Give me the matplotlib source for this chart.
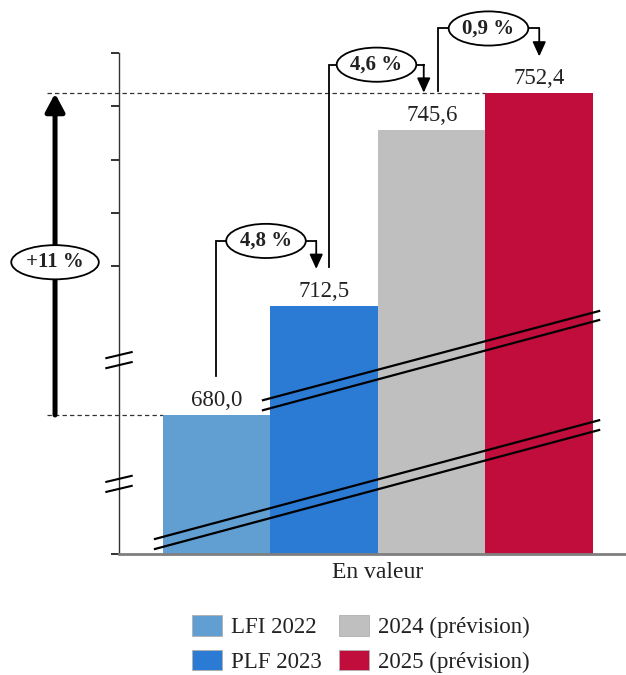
import numpy as np
import matplotlib
matplotlib.use("Agg")
import matplotlib.pyplot as plt
from matplotlib.patches import Patch

plt.rcParams["font.family"] = ["Liberation Serif", "DejaVu Serif"]

# --- data -------------------------------------------------------------
categories = ["LFI 2022", "PLF 2023", "2024 (prévision)", "2025 (prévision)"]
values = [680.0, 712.5, 745.6, 752.4]
value_labels = ["680,0", "712,5", "745,6", "752,4"]
growth_labels = ["4,8 %", "4,6 %", "0,9 %"]
total_label = "+11 %"
group_label = "En valeur"
yticks = [0, 720, 730, 740, 750, 760]

colors = ["#619ed2", "#2b7bd4", "#bfbfbf", "#c10d3b"]

# broken value axis: linear above 710, compressed below
knots_v = np.array([0.0, 680.0, 710.0, 800.0])
knots_p = np.array([0.0, 139.0, 234.75, 714.0])


def fwd(v):
    return np.interp(v, knots_v, knots_p)


def inv(p):
    return np.interp(p, knots_p, knots_v)


W, H = 626, 675
fig = plt.figure(figsize=(W / 100, H / 100), dpi=100)
ax = fig.add_axes([119 / W, 121 / H, (W - 119) / W, 501 / H])
ax.set_yscale("function", functions=(fwd, inv))
ax.set_ylim(0, 760)
ax.set_xlim(-0.909, 3.807)

x = np.arange(len(values))
ax.bar(x, values, width=1.0, color=colors, zorder=2)

for s in ("top", "right"):
    ax.spines[s].set_visible(False)
ax.spines["left"].set_color("#333333")
ax.spines["left"].set_linewidth(1.0)
ax.spines["bottom"].set_color("#7f7f7f")
ax.spines["bottom"].set_linewidth(2.0)
ax.spines["bottom"].set_zorder(4)

ax.set_yticks(yticks)
ax.set_yticklabels([])
ax.yaxis.set_minor_locator(matplotlib.ticker.NullLocator())
ax.tick_params(axis="y", length=6, width=1.3, color="#222222")
ax.set_xticks([1.5])
ax.set_xticklabels([group_label], fontsize=17)
ax.tick_params(axis="x", length=0, pad=6, colors="#222222")

FS = 16.5
TXT = "#222222"

# value labels
for xi, v, lbl in zip(x, values, value_labels):
    ax.annotate(lbl, (xi, v), xytext=(0, 3), textcoords="offset points",
                ha="center", va="bottom", fontsize=FS, color=TXT, zorder=5)

fig.canvas.draw()
to_disp = ax.transData.transform
to_data = ax.transData.inverted().transform


def shifted(xd, vd, dx, dy):
    px, py = to_disp((xd, vd))
    return to_data((px + dx, py + dy))


ell = dict(boxstyle="ellipse,pad=0.1", fc="white", ec="black", lw=1.3)

# growth connectors between consecutive bars
start_dx = [-1, 5, 6]
end_dx = [-8, -8, 0]
for i, lbl in enumerate(growth_labels):
    a = shifted(x[i], values[i], start_dx[i], 39)
    b = shifted(x[i], values[i + 1], start_dx[i], 65)
    c = shifted(x[i + 1], values[i + 1], end_dx[i], 65)
    d = shifted(x[i + 1], values[i + 1], end_dx[i], 37)
    ax.plot([a[0], b[0], c[0]], [a[1], b[1], c[1]], color="black",
            lw=1.3, solid_joinstyle="miter", clip_on=False, zorder=5)
    ax.annotate("", xy=d, xytext=c,
                arrowprops=dict(arrowstyle="-|>,head_length=0.55,head_width=0.25",
                                color="black", lw=1.3, shrinkA=0, shrinkB=0,
                                mutation_scale=16),
                annotation_clip=False, zorder=5)
    mx = (b[0] + c[0]) / 2
    ax.text(mx, b[1], lbl, ha="center", va="center", fontsize=15,
            fontweight="bold", color=TXT, bbox=ell, zorder=6, clip_on=False)

# overall change arrow on the left
xa = -1.504
x_dash = -1.579
ax.plot([x_dash, x[-1] - 0.5], [values[-1], values[-1]], color="#333333",
        lw=0.9, ls=(0, (3.5, 2.5)), clip_on=False, zorder=1)
ax.plot([x_dash, x[0] - 0.5], [values[0], values[0]], color="#333333",
        lw=0.9, ls=(0, (3.5, 2.5)), clip_on=False, zorder=1)
ax.annotate("", xy=(xa, values[-1]), xytext=(xa, values[0]),
            arrowprops=dict(arrowstyle="-|>,head_length=0.6,head_width=0.32",
                            color="black", lw=3.6, shrinkA=0, shrinkB=0,
                            mutation_scale=18),
            annotation_clip=False, zorder=5)
p0 = to_disp((xa, values[0]))
p1 = to_disp((xa, values[-1]))
mid = to_data(((p0[0] + p1[0]) / 2, (p0[1] + p1[1]) / 2 - 8))
ax.text(mid[0], mid[1], total_label, ha="center", va="center", fontsize=15,
        fontweight="bold", color=TXT, bbox=ell, zorder=6, clip_on=False)

# axis break marks on the value axis
for yc in (0.387, 0.140):
    for dy in (0.010, -0.010):
        ax.plot([-0.025, 0.025], [yc + dy - 0.006, yc + dy + 0.006],
                transform=ax.transAxes, color="black", lw=1.5,
                clip_on=False, zorder=5)

# break lines across the bars
for (x0, y0, x1, y1) in [(0.284, 0.307, 0.947, 0.485),
                         (0.284, 0.287, 0.947, 0.467),
                         (0.071, 0.030, 0.947, 0.267),
                         (0.071, 0.010, 0.947, 0.2475)]:
    ax.plot([x0, x1], [y0, y1], transform=ax.transAxes, color="black",
            lw=1.6, clip_on=False, zorder=4)

# legend
handles = [Patch(facecolor=c, edgecolor="#b0b0b0", lw=0.6) for c in colors]
fig.legend(handles, categories, loc="upper left",
           bbox_to_anchor=(192 / W, 1 - 615 / H), ncol=2, frameon=False,
           fontsize=16.5, handlelength=1.3, handleheight=1.0,
           handletextpad=0.4, columnspacing=0.75, labelspacing=0.5,
           borderpad=0, borderaxespad=0, labelcolor=TXT)

fig.savefig("out.png", dpi=100)
